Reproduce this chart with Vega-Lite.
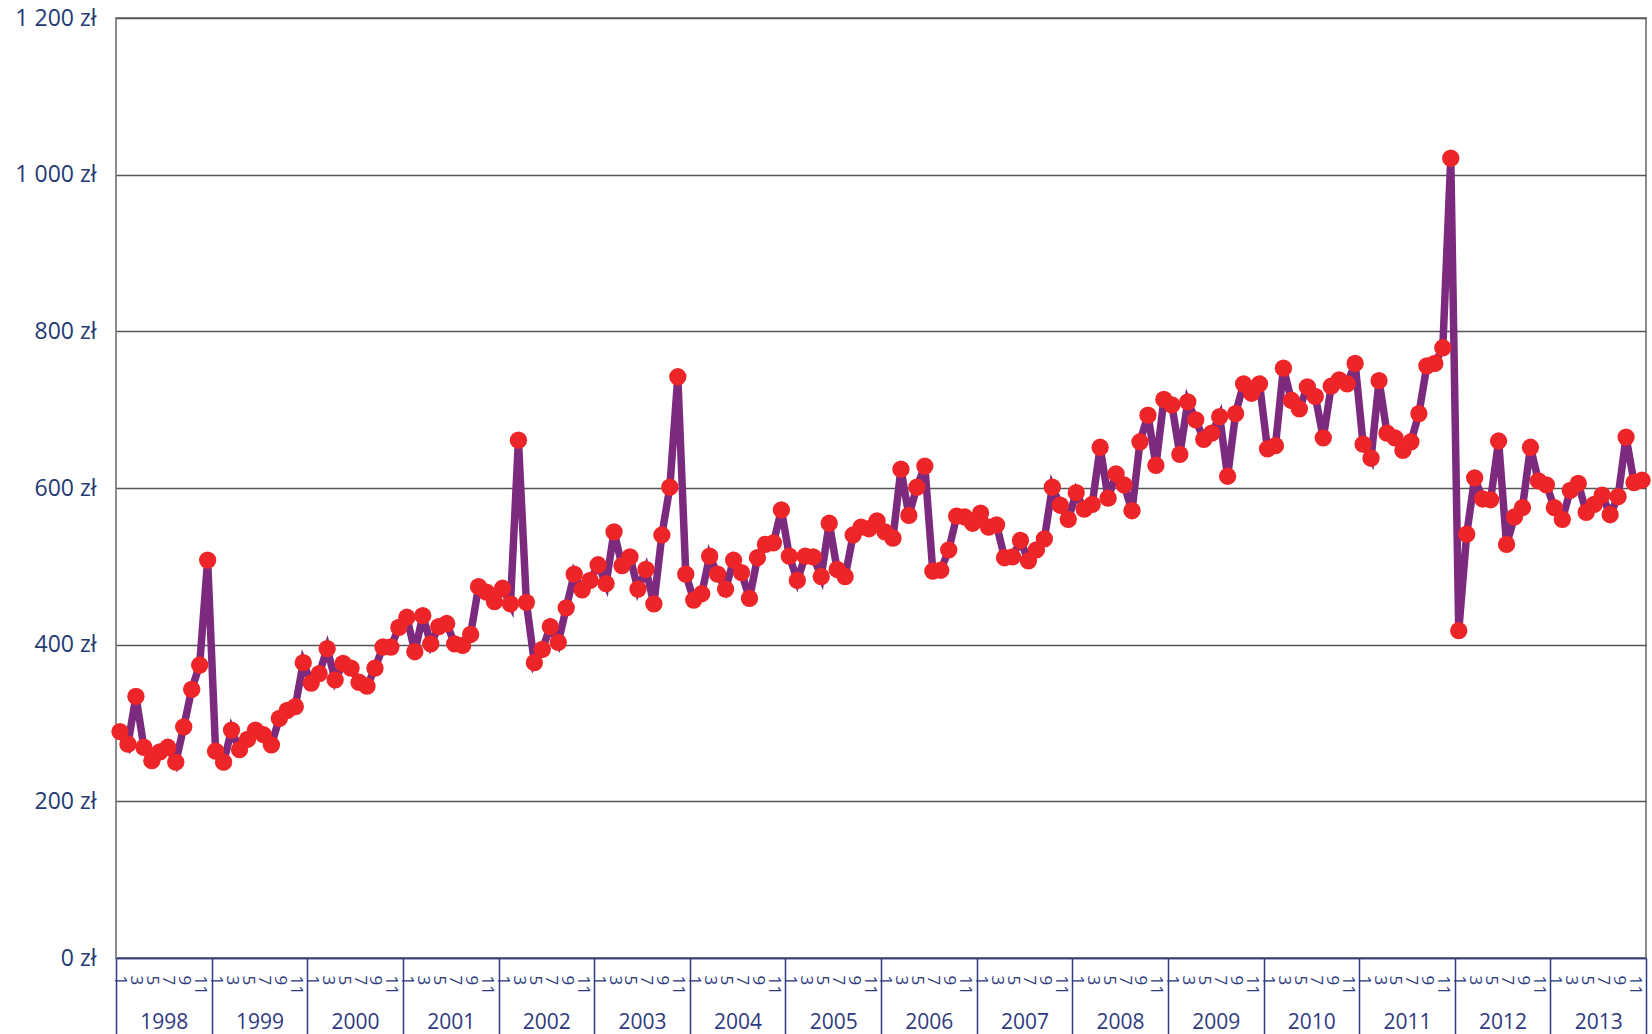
{
  "$schema": "https://vega.github.io/schema/vega-lite/v6.json",
  "width": 1530,
  "height": 940,
  "autosize": {"type": "none"},
  "padding": {"left": 116, "top": 18, "right": 6, "bottom": 76},
  "background": "white",
  "config": {
    "view": {"stroke": "#8c8c8c", "strokeWidth": 2},
    "font": "Open Sans"
  },
  "data": {
    "values": [
      {"period": "1998-01", "year": 1998, "value": 289}, {"period": "1998-02", "year": 1998, "value": 273}, {"period": "1998-03", "year": 1998, "value": 334}, {"period": "1998-04", "year": 1998, "value": 269}, {"period": "1998-05", "year": 1998, "value": 252}, {"period": "1998-06", "year": 1998, "value": 263}, {"period": "1998-07", "year": 1998, "value": 269}, {"period": "1998-08", "year": 1998, "value": 250}, {"period": "1998-09", "year": 1998, "value": 295}, {"period": "1998-10", "year": 1998, "value": 343}, {"period": "1998-11", "year": 1998, "value": 374}, {"period": "1998-12", "year": 1998, "value": 508},
      {"period": "1999-01", "year": 1999, "value": 264}, {"period": "1999-02", "year": 1999, "value": 250}, {"period": "1999-03", "year": 1999, "value": 291}, {"period": "1999-04", "year": 1999, "value": 266}, {"period": "1999-05", "year": 1999, "value": 279}, {"period": "1999-06", "year": 1999, "value": 291}, {"period": "1999-07", "year": 1999, "value": 285}, {"period": "1999-08", "year": 1999, "value": 272}, {"period": "1999-09", "year": 1999, "value": 306}, {"period": "1999-10", "year": 1999, "value": 316}, {"period": "1999-11", "year": 1999, "value": 321}, {"period": "1999-12", "year": 1999, "value": 377},
      {"period": "2000-01", "year": 2000, "value": 351}, {"period": "2000-02", "year": 2000, "value": 363}, {"period": "2000-03", "year": 2000, "value": 395}, {"period": "2000-04", "year": 2000, "value": 355}, {"period": "2000-05", "year": 2000, "value": 376}, {"period": "2000-06", "year": 2000, "value": 370}, {"period": "2000-07", "year": 2000, "value": 352}, {"period": "2000-08", "year": 2000, "value": 347}, {"period": "2000-09", "year": 2000, "value": 370}, {"period": "2000-10", "year": 2000, "value": 397}, {"period": "2000-11", "year": 2000, "value": 397}, {"period": "2000-12", "year": 2000, "value": 422},
      {"period": "2001-01", "year": 2001, "value": 435}, {"period": "2001-02", "year": 2001, "value": 391}, {"period": "2001-03", "year": 2001, "value": 437}, {"period": "2001-04", "year": 2001, "value": 401}, {"period": "2001-05", "year": 2001, "value": 423}, {"period": "2001-06", "year": 2001, "value": 427}, {"period": "2001-07", "year": 2001, "value": 401}, {"period": "2001-08", "year": 2001, "value": 399}, {"period": "2001-09", "year": 2001, "value": 413}, {"period": "2001-10", "year": 2001, "value": 474}, {"period": "2001-11", "year": 2001, "value": 467}, {"period": "2001-12", "year": 2001, "value": 455},
      {"period": "2002-01", "year": 2002, "value": 472}, {"period": "2002-02", "year": 2002, "value": 452}, {"period": "2002-03", "year": 2002, "value": 661}, {"period": "2002-04", "year": 2002, "value": 454}, {"period": "2002-05", "year": 2002, "value": 377}, {"period": "2002-06", "year": 2002, "value": 394}, {"period": "2002-07", "year": 2002, "value": 423}, {"period": "2002-08", "year": 2002, "value": 403}, {"period": "2002-09", "year": 2002, "value": 447}, {"period": "2002-10", "year": 2002, "value": 490}, {"period": "2002-11", "year": 2002, "value": 470}, {"period": "2002-12", "year": 2002, "value": 482},
      {"period": "2003-01", "year": 2003, "value": 502}, {"period": "2003-02", "year": 2003, "value": 478}, {"period": "2003-03", "year": 2003, "value": 544}, {"period": "2003-04", "year": 2003, "value": 501}, {"period": "2003-05", "year": 2003, "value": 512}, {"period": "2003-06", "year": 2003, "value": 471}, {"period": "2003-07", "year": 2003, "value": 496}, {"period": "2003-08", "year": 2003, "value": 452}, {"period": "2003-09", "year": 2003, "value": 540}, {"period": "2003-10", "year": 2003, "value": 601}, {"period": "2003-11", "year": 2003, "value": 742}, {"period": "2003-12", "year": 2003, "value": 490},
      {"period": "2004-01", "year": 2004, "value": 457}, {"period": "2004-02", "year": 2004, "value": 465}, {"period": "2004-03", "year": 2004, "value": 513}, {"period": "2004-04", "year": 2004, "value": 490}, {"period": "2004-05", "year": 2004, "value": 471}, {"period": "2004-06", "year": 2004, "value": 508}, {"period": "2004-07", "year": 2004, "value": 492}, {"period": "2004-08", "year": 2004, "value": 459}, {"period": "2004-09", "year": 2004, "value": 511}, {"period": "2004-10", "year": 2004, "value": 528}, {"period": "2004-11", "year": 2004, "value": 530}, {"period": "2004-12", "year": 2004, "value": 572},
      {"period": "2005-01", "year": 2005, "value": 513}, {"period": "2005-02", "year": 2005, "value": 482}, {"period": "2005-03", "year": 2005, "value": 513}, {"period": "2005-04", "year": 2005, "value": 512}, {"period": "2005-05", "year": 2005, "value": 487}, {"period": "2005-06", "year": 2005, "value": 555}, {"period": "2005-07", "year": 2005, "value": 496}, {"period": "2005-08", "year": 2005, "value": 487}, {"period": "2005-09", "year": 2005, "value": 540}, {"period": "2005-10", "year": 2005, "value": 550}, {"period": "2005-11", "year": 2005, "value": 548}, {"period": "2005-12", "year": 2005, "value": 558},
      {"period": "2006-01", "year": 2006, "value": 544}, {"period": "2006-02", "year": 2006, "value": 536}, {"period": "2006-03", "year": 2006, "value": 624}, {"period": "2006-04", "year": 2006, "value": 565}, {"period": "2006-05", "year": 2006, "value": 601}, {"period": "2006-06", "year": 2006, "value": 628}, {"period": "2006-07", "year": 2006, "value": 494}, {"period": "2006-08", "year": 2006, "value": 495}, {"period": "2006-09", "year": 2006, "value": 521}, {"period": "2006-10", "year": 2006, "value": 564}, {"period": "2006-11", "year": 2006, "value": 563}, {"period": "2006-12", "year": 2006, "value": 555},
      {"period": "2007-01", "year": 2007, "value": 568}, {"period": "2007-02", "year": 2007, "value": 550}, {"period": "2007-03", "year": 2007, "value": 553}, {"period": "2007-04", "year": 2007, "value": 511}, {"period": "2007-05", "year": 2007, "value": 512}, {"period": "2007-06", "year": 2007, "value": 533}, {"period": "2007-07", "year": 2007, "value": 507}, {"period": "2007-08", "year": 2007, "value": 521}, {"period": "2007-09", "year": 2007, "value": 535}, {"period": "2007-10", "year": 2007, "value": 601}, {"period": "2007-11", "year": 2007, "value": 578}, {"period": "2007-12", "year": 2007, "value": 560},
      {"period": "2008-01", "year": 2008, "value": 594}, {"period": "2008-02", "year": 2008, "value": 573}, {"period": "2008-03", "year": 2008, "value": 579}, {"period": "2008-04", "year": 2008, "value": 652}, {"period": "2008-05", "year": 2008, "value": 587}, {"period": "2008-06", "year": 2008, "value": 618}, {"period": "2008-07", "year": 2008, "value": 604}, {"period": "2008-08", "year": 2008, "value": 571}, {"period": "2008-09", "year": 2008, "value": 659}, {"period": "2008-10", "year": 2008, "value": 693}, {"period": "2008-11", "year": 2008, "value": 629}, {"period": "2008-12", "year": 2008, "value": 713},
      {"period": "2009-01", "year": 2009, "value": 706}, {"period": "2009-02", "year": 2009, "value": 643}, {"period": "2009-03", "year": 2009, "value": 710}, {"period": "2009-04", "year": 2009, "value": 687}, {"period": "2009-05", "year": 2009, "value": 662}, {"period": "2009-06", "year": 2009, "value": 670}, {"period": "2009-07", "year": 2009, "value": 691}, {"period": "2009-08", "year": 2009, "value": 615}, {"period": "2009-09", "year": 2009, "value": 695}, {"period": "2009-10", "year": 2009, "value": 733}, {"period": "2009-11", "year": 2009, "value": 721}, {"period": "2009-12", "year": 2009, "value": 733},
      {"period": "2010-01", "year": 2010, "value": 650}, {"period": "2010-02", "year": 2010, "value": 654}, {"period": "2010-03", "year": 2010, "value": 753}, {"period": "2010-04", "year": 2010, "value": 712}, {"period": "2010-05", "year": 2010, "value": 701}, {"period": "2010-06", "year": 2010, "value": 729}, {"period": "2010-07", "year": 2010, "value": 717}, {"period": "2010-08", "year": 2010, "value": 664}, {"period": "2010-09", "year": 2010, "value": 730}, {"period": "2010-10", "year": 2010, "value": 738}, {"period": "2010-11", "year": 2010, "value": 733}, {"period": "2010-12", "year": 2010, "value": 759},
      {"period": "2011-01", "year": 2011, "value": 656}, {"period": "2011-02", "year": 2011, "value": 638}, {"period": "2011-03", "year": 2011, "value": 737}, {"period": "2011-04", "year": 2011, "value": 670}, {"period": "2011-05", "year": 2011, "value": 664}, {"period": "2011-06", "year": 2011, "value": 648}, {"period": "2011-07", "year": 2011, "value": 659}, {"period": "2011-08", "year": 2011, "value": 695}, {"period": "2011-09", "year": 2011, "value": 756}, {"period": "2011-10", "year": 2011, "value": 759}, {"period": "2011-11", "year": 2011, "value": 779}, {"period": "2011-12", "year": 2011, "value": 1021},
      {"period": "2012-01", "year": 2012, "value": 418}, {"period": "2012-02", "year": 2012, "value": 541}, {"period": "2012-03", "year": 2012, "value": 613}, {"period": "2012-04", "year": 2012, "value": 586}, {"period": "2012-05", "year": 2012, "value": 585}, {"period": "2012-06", "year": 2012, "value": 660}, {"period": "2012-07", "year": 2012, "value": 528}, {"period": "2012-08", "year": 2012, "value": 563}, {"period": "2012-09", "year": 2012, "value": 575}, {"period": "2012-10", "year": 2012, "value": 652}, {"period": "2012-11", "year": 2012, "value": 609}, {"period": "2012-12", "year": 2012, "value": 604},
      {"period": "2013-01", "year": 2013, "value": 575}, {"period": "2013-02", "year": 2013, "value": 560}, {"period": "2013-03", "year": 2013, "value": 597}, {"period": "2013-04", "year": 2013, "value": 606}, {"period": "2013-05", "year": 2013, "value": 569}, {"period": "2013-06", "year": 2013, "value": 579}, {"period": "2013-07", "year": 2013, "value": 591}, {"period": "2013-08", "year": 2013, "value": 566}, {"period": "2013-09", "year": 2013, "value": 589}, {"period": "2013-10", "year": 2013, "value": 665}, {"period": "2013-11", "year": 2013, "value": 607}, {"period": "2013-12", "year": 2013, "value": 610}
    ]
  },
  "layer": [
    {
      "encoding": {
        "x": {
          "field": "period",
          "type": "ordinal",
          "scale": {"type": "point", "padding": 0.5},
          "axis": {
            "orient": "bottom",
            "title": null,
            "labelAngle": 90,
            "labelExpr": "toNumber(substring(datum.value, 5, 7)) % 2 == 1 ? '' + toNumber(substring(datum.value, 5, 7)) : ''",
            "labelOverlap": false,
            "labelBound": false,
            "labelFlush": false,
            "labelPadding": 17,
            "labelFontSize": 17,
            "labelFont": "Open Sans",
            "labelColor": "#2e3a80",
            "ticks": false,
            "tickSize": 0,
            "domain": true,
            "domainColor": "#2e3a80",
            "domainWidth": 1.5,
            "grid": false
          }
        },
        "y": {
          "field": "value",
          "type": "quantitative",
          "scale": {"domain": [0, 1200], "nice": false, "zero": true},
          "axis": {
            "title": null,
            "values": [0, 200, 400, 600, 800, 1000, 1200],
            "labelExpr": "replace(format(datum.value, ',d'), ',', ' ') + ' zł'",
            "grid": true,
            "gridColor": "#555555",
            "gridWidth": 1.3,
            "domain": false,
            "ticks": false,
            "labelPadding": 20,
            "labelFontSize": 23,
            "labelFont": "Open Sans",
            "labelColor": "#243a73"
          }
        }
      },
      "layer": [
        {
          "mark": {"type": "line", "color": "#7b2a7e", "strokeWidth": 7.5, "strokeJoin": "miter"}
        },
        {
          "mark": {"type": "point", "filled": true, "color": "#ee2528", "size": 300, "opacity": 1}
        }
      ]
    },
    {
      "mark": {"type": "rule", "opacity": 0},
      "encoding": {
        "x": {
          "field": "year",
          "type": "quantitative",
          "scale": {"domain": [1998, 2014], "nice": false, "zero": false},
          "axis": {
            "orient": "bottom",
            "title": null,
            "values": [1998, 1999, 2000, 2001, 2002, 2003, 2004, 2005, 2006, 2007, 2008, 2009, 2010, 2011, 2012, 2013, 2014],
            "format": "d",
            "labelExpr": "datum.value < 2014 ? datum.label : ''",
            "labelOffset": 47.8,
            "labelPadding": -23,
            "labelFontSize": 21,
            "labelFont": "Open Sans",
            "labelColor": "#2e3a80",
            "labelOverlap": false,
            "labelBound": false,
            "labelFlush": false,
            "ticks": true,
            "tickSize": 76,
            "tickColor": "#2e3a80",
            "tickWidth": 1.5,
            "domain": false,
            "grid": false
          }
        }
      }
    }
  ],
  "resolve": {"scale": {"x": "independent"}}
}
